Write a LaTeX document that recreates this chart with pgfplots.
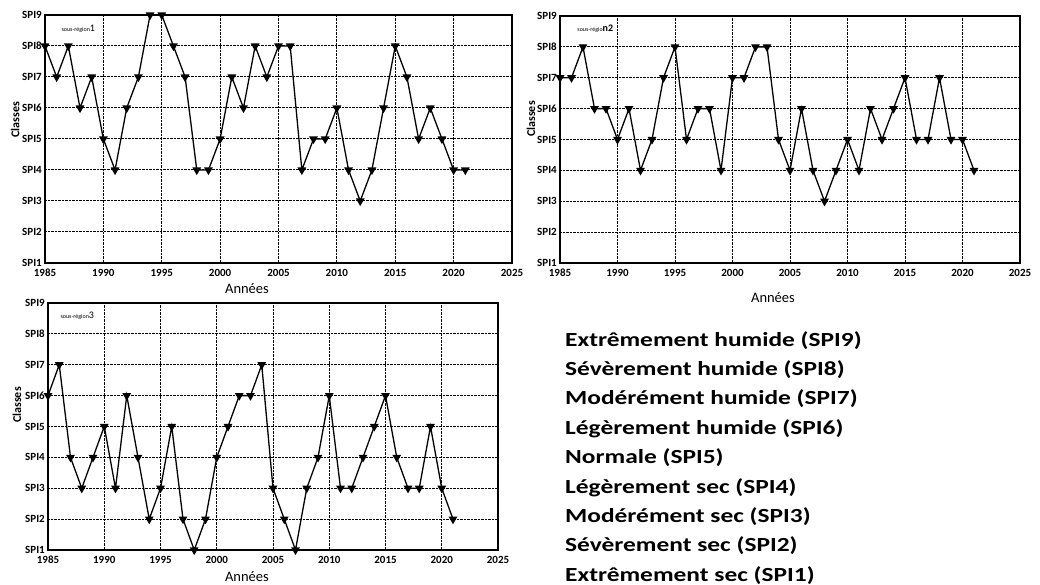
\documentclass[border=0pt]{standalone}
\usepackage{pgfplots}
\pgfplotsset{compat=1.18}
\usepackage{pgfplotstable}
\usepackage{fontspec}
\setmainfont{Carlito}

\pgfplotstableread{
year v
1985 8
1986 7
1987 8
1988 6
1989 7
1990 5
1991 4
1992 6
1993 7
1994 9
1995 9
1996 8
1997 7
1998 4
1999 4
2000 5
2001 7
2002 6
2003 8
2004 7
2005 8
2006 8
2007 4
2008 5
2009 5
2010 6
2011 4
2012 3
2013 4
2014 6
2015 8
2016 7
2017 5
2018 6
2019 5
2020 4
2021 4
}\regionA

\pgfplotstableread{
year v
1985 7
1986 7
1987 8
1988 6
1989 6
1990 5
1991 6
1992 4
1993 5
1994 7
1995 8
1996 5
1997 6
1998 6
1999 4
2000 7
2001 7
2002 8
2003 8
2004 5
2005 4
2006 6
2007 4
2008 3
2009 4
2010 5
2011 4
2012 6
2013 5
2014 6
2015 7
2016 5
2017 5
2018 7
2019 5
2020 5
2021 4
}\regionB

\pgfplotstableread{
year v
1985 6
1986 7
1987 4
1988 3
1989 4
1990 5
1991 3
1992 6
1993 4
1994 2
1995 3
1996 5
1997 2
1998 1
1999 2
2000 4
2001 5
2002 6
2003 6
2004 7
2005 3
2006 2
2007 1
2008 3
2009 4
2010 6
2011 3
2012 3
2013 4
2014 5
2015 6
2016 4
2017 3
2018 3
2019 5
2020 3
2021 2
}\regionC

\pgfplotsset{spi/.style={
  scale only axis, anchor=north west,
  xmin=1985, xmax=2025, ymin=1, ymax=9,
  xtick={1985,1990,1995,2000,2005,2010,2015,2020,2025},
  xticklabels={1985,1990,1995,2000,2005,2010,2015,2020,2025},
  ytick={1,2,3,4,5,6,7,8,9},
  yticklabels={SPI1,SPI2,SPI3,SPI4,SPI5,SPI6,SPI7,SPI8,SPI9},
  xticklabel style={font=\fontsize{11}{11}\selectfont\bfseries, yshift=-2.5pt},
  yticklabel style={font=\fontsize{11}{11}\selectfont\bfseries, inner sep=0pt, xshift=-3pt},
  grid=major,
  major grid style={densely dotted, black, line width=1pt},
  axis line style={line width=1.6pt},
  tick style={draw=none},
  clip=false,
  xlabel={Années},
  ylabel={Classes},
  xlabel style={font=\fontsize{14.5}{14.5}\selectfont, anchor=center},
  ylabel style={font=\fontsize{12}{12}\selectfont\bfseries, anchor=center, rotate=0},
},
spiline/.style={black, line width=1.3pt, mark=triangle*, mark size=3.8pt,
    mark options={rotate=180, solid, fill=black}},
}

\begin{document}
\begin{tikzpicture}
\path[use as bounding box] (0pt,0pt) rectangle (1040pt,-585pt);

\begin{axis}[spi, at={(45pt,-15pt)}, width=467pt, height=248pt,
  xlabel style={at={(rel axis cs:0.4325,-0.105)}},
  ylabel style={at={(rel axis cs:-0.064,0.577)}}]
\addplot[spiline] table[x=year, y=v] {\regionA};
\node[anchor=west, inner sep=0pt] at (axis cs:1986.4,8.55)
  {{\fontsize{6}{6}\selectfont sous-région}{\fontsize{10}{10}\selectfont 1}};
\end{axis}

\begin{axis}[spi, at={(560pt,-16pt)}, width=460pt, height=247pt,
  xlabel style={at={(rel axis cs:0.463,-0.142)}},
  ylabel style={at={(rel axis cs:-0.063,0.583)}}]
\addplot[spiline] table[x=year, y=v] {\regionB};
\node[anchor=west, inner sep=0pt] at (axis cs:1986.5,8.6)
  {{\fontsize{6}{6}\selectfont sous-régio}{\fontsize{10}{10}\selectfont\bfseries n2}};
\end{axis}

\begin{axis}[spi, at={(48pt,-303pt)}, width=450pt, height=247pt,
  xlabel style={at={(rel axis cs:0.442,-0.109)}},
  ylabel style={at={(rel axis cs:-0.069,0.587)}}]
\addplot[spiline] table[x=year, y=v] {\regionC};
\node[anchor=west, inner sep=0pt] at (axis cs:1986.1,8.6)
  {{\fontsize{6}{6}\selectfont sous-région}{\fontsize{10}{10}\selectfont 3}};
\end{axis}

\foreach \t [count=\i from 0] in {Extrêmement humide (SPI9),Sévèrement humide (SPI8),Modérément humide (SPI7),Légèrement humide (SPI6),Normale (SPI5),Légèrement sec (SPI4),Modérément sec (SPI3),Sévèrement sec (SPI2),Extrêmement sec (SPI1)}
  \node[anchor=base west, inner sep=0pt, font=\fontsize{20}{20}\selectfont\bfseries]
    at (565pt,{-346pt-29.4pt*\i}) {\scalebox{1.27}[1]{\t}};
\end{tikzpicture}
\end{document}
